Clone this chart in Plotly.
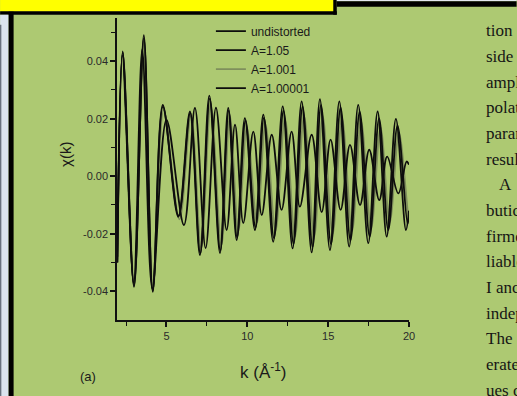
import plotly.graph_objects as go

# ---------------- data ----------------
k_undistorted = [1.96, 2.29, 2.99, 3.60, 4.15, 4.77, 5.73, 6.45, 7.07, 7.65, 8.31, 8.82, 9.34, 9.85,
                 10.47, 10.99, 11.60, 12.19, 12.80, 13.36, 13.98, 14.49, 15.11, 15.69, 16.30, 16.86,
                 17.48, 18.06, 18.62, 19.19, 19.81, 20.0]
chi_undistorted = [-0.030, 0.0434, -0.0385, 0.049, -0.0402, 0.0248, -0.0141, 0.0225, -0.0274, 0.028,
                   -0.0267, 0.0237, -0.0222, 0.0202, -0.0187, 0.0214, -0.0228, 0.0243, -0.0251, 0.026,
                   -0.0265, 0.0268, -0.0257, 0.026, -0.0245, 0.0248, -0.0233, 0.0225, -0.021, 0.0199,
                   -0.0187, -0.012]

k_a105 = [1.96, 2.27, 2.97, 3.50, 4.12, 5.00, 6.08, 6.76, 7.42, 8.06, 8.72, 9.24, 9.75, 10.37, 10.89,
          11.51, 12.12, 12.74, 13.25, 13.98, 14.60, 15.15, 15.77, 16.35, 16.97, 17.54, 18.16, 18.65,
          19.34, 19.85, 20.0]
chi_a105 = [-0.028, 0.042, -0.037, 0.044, -0.039, 0.0196, -0.017, 0.0237, -0.025, 0.0238, -0.0187,
            0.0179, -0.0163, 0.0155, -0.0135, 0.0144, -0.0117, 0.0155, -0.0106, 0.0144, -0.0125,
            0.0127, -0.0117, 0.0109, -0.010, 0.0092, -0.0083, 0.0068, -0.006, 0.0051, 0.004]

k_a1001 = [1.96, 2.30, 3.01, 3.58, 4.17, 4.83, 5.80, 6.52, 7.15, 7.74, 8.40, 8.92, 9.45, 9.97,
           10.60, 11.12, 11.74, 12.33, 12.95, 13.51, 14.14, 14.66, 15.28, 15.86, 16.48, 17.04,
           17.66, 18.24, 18.81, 19.38, 19.98, 20.0]
chi_a1001 = [-0.029, 0.043, -0.038, 0.047, -0.039, 0.023, -0.015, 0.021, -0.025, 0.025,
             -0.024, 0.021, -0.019, 0.017, -0.016, 0.018, -0.019, 0.020, -0.021, 0.021,
             -0.021, 0.021, -0.020, 0.020, -0.019, 0.019, -0.018, 0.017, -0.016, 0.015,
             -0.014, -0.014]

k_a100001 = [1.96, 2.29, 2.99, 3.60, 4.15, 4.78, 5.75, 6.47, 7.09, 7.68, 8.33, 8.85, 9.37, 9.89,
             10.51, 11.03, 11.65, 12.24, 12.86, 13.42, 14.04, 14.56, 15.18, 15.77, 16.38, 16.95,
             17.57, 18.15, 18.72, 19.29, 19.91, 20.0]
chi_a100001 = [-0.030, 0.0430, -0.0380, 0.048, -0.0398, 0.0242, -0.0138, 0.0220, -0.0268, 0.027,
               -0.0258, 0.0228, -0.0213, 0.0193, -0.0178, 0.0203, -0.0215, 0.0228, -0.0235, 0.0242,
               -0.0246, 0.0247, -0.0236, 0.0238, -0.0223, 0.0224, -0.0210, 0.0201, -0.0187, 0.0176,
               -0.0165, -0.014]

series_names = ["undistorted", "A=1.05", "A=1.001", "A=1.00001"]
series_colors = ["#0d0d0d", "#0d0d0d", "#7f8f5c", "#0d0d0d"]

x_ticks = [5, 10, 15, 20]
x_ticktext = ["5", "10", "15", "20"]
y_ticks = [-0.04, -0.02, 0.0, 0.02, 0.04]
y_ticktext = ["-0.04", "-0.02", "0.00", "0.02", "0.04"]

side_text = ["tion", "side", "ampl", "polat", "paran", "resul", "A", "butic", "firme",
             "liable", "I anc", "indep", "The", "erate", "ues c"]

# ---------------- layout helpers (pixel -> paper) ----------------
W, H = 517, 396
L, R, T, B = 117, 409.3, 18.3, 320


def px(x):
    return (x - L) / (R - L)


def py(y):
    return (B - y) / (B - T)


GREEN = "#adc972"

fig = go.Figure()
data = [(k_undistorted, chi_undistorted), (k_a105, chi_a105),
        (k_a1001, chi_a1001), (k_a100001, chi_a100001)]
order = [2, 1, 3, 0]
for i in order:
    k, c = data[i]
    fig.add_trace(go.Scatter(
        x=k, y=c, mode="lines", name=series_names[i],
        line=dict(color=series_colors[i], width=1.8, shape="spline", smoothing=1.0),
        legendgroup=series_names[i], legendrank=i + 1,
    ))

shapes = []


def rect(x0, y0, x1, y1, color):
    shapes.append(dict(type="rect", xref="paper", yref="paper",
                       x0=px(x0), x1=px(x1), y0=py(y0), y1=py(y1),
                       fillcolor=color, line=dict(width=0), layer="above"))


rect(0, 0, 334, 12, "#ffff00")
rect(0, 11.5, 337, 15, "#000000")
rect(333.5, 0, 337, 15, "#000000")
rect(337, 0, 517, 1.5, "#e4e9ef")
rect(337, 1.5, 517, 7, "#000000")
rect(0, 15, 8.5, 396, "#dbe4ee")
rect(8.5, 12, 13.5, 396, "#000000")
rect(0, 25, 1.2, 396, "#5a6270")

annotations = []
for i, t in enumerate(side_text):
    x0 = 497 if t == "A" else 484
    annotations.append(dict(
        x=px(x0), y=py(31 + 25.65 * i), xref="paper", yref="paper", text=t,
        showarrow=False, xanchor="left", yanchor="middle",
        font=dict(family="Liberation Serif, Times New Roman, serif", size=17, color="#151515")))

annotations.append(dict(x=px(263), y=py(371), xref="paper", yref="paper",
                        text="k (Å<sup>-1</sup>)", showarrow=False,
                        xanchor="center", yanchor="middle",
                        font=dict(family="Liberation Sans, Arial, sans-serif", size=17, color="#1a1a1a")))
annotations.append(dict(x=px(66), y=py(155), xref="paper", yref="paper",
                        text="χ(k)", showarrow=False, textangle=-90,
                        xanchor="center", yanchor="middle",
                        font=dict(family="Liberation Sans, Arial, sans-serif", size=15, color="#1a1a1a")))
annotations.append(dict(x=px(88), y=py(376), xref="paper", yref="paper",
                        text="(a)", showarrow=False, xanchor="center", yanchor="middle",
                        font=dict(family="Liberation Sans, Arial, sans-serif", size=13, color="#1a1a1a")))

tickfont = dict(family="Liberation Sans, Arial, sans-serif", size=11, color="#2a2a2a")

fig.update_layout(
    width=W, height=H,
    margin=dict(l=L, r=W - R, t=T, b=H - B, pad=0),
    paper_bgcolor=GREEN, plot_bgcolor=GREEN,
    shapes=shapes, annotations=annotations,
    showlegend=True,
    legend=dict(x=px(211), y=py(17), xanchor="left", yanchor="top",
                bgcolor="rgba(0,0,0,0)", borderwidth=0,
                font=dict(family="Liberation Sans, Arial, sans-serif", size=12, color="#1a1a1a"),
                tracegroupgap=1, itemwidth=30, traceorder="normal"),
    xaxis=dict(range=[1.94, 20], showline=True, linecolor="#111111", linewidth=1.5,
               ticks="outside", ticklen=5, tickwidth=1.5, tickcolor="#111111",
               tickvals=x_ticks, ticktext=x_ticktext, tickfont=tickfont,
               minor=dict(ticks="outside", ticklen=4, tickwidth=1.2, tickcolor="#111111",
                          tickvals=[2.5, 7.5, 12.5, 17.5]),
               showgrid=False, zeroline=False),
    yaxis=dict(range=[-0.050, 0.055], showline=True, linecolor="#111111", linewidth=1.5,
               ticks="outside", ticklen=5, tickwidth=1.5, tickcolor="#111111",
               tickvals=y_ticks, ticktext=y_ticktext, tickfont=tickfont,
               minor=dict(ticks="outside", ticklen=4, tickwidth=1.2, tickcolor="#111111",
                          tickvals=[-0.03, -0.01, 0.01, 0.03, 0.05]),
               showgrid=False, zeroline=False),
)

fig.write_html("out.html")
